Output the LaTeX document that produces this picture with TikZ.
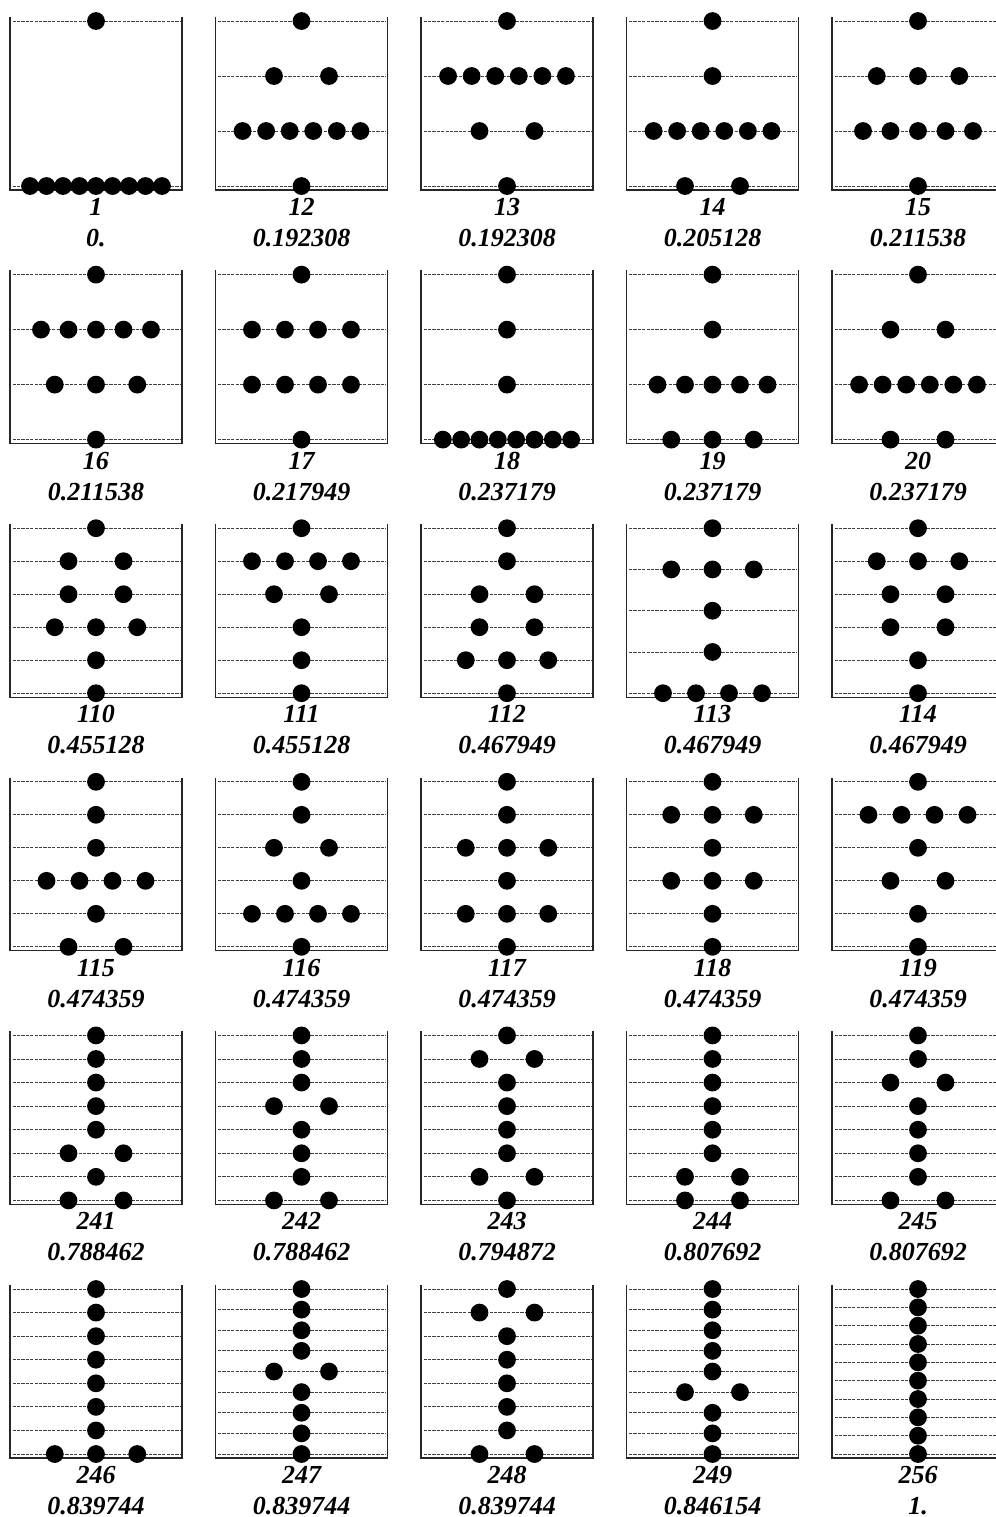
\documentclass[tikz,border=0pt]{standalone}
\usepackage{fontspec}
\setmainfont{Liberation Serif}
\usepackage{tikz}
\usetikzlibrary{positioning}
\tikzset{
  levelline/.style = {draw=black!75, line width=0.4pt, dash pattern=on 1.6pt off 0.6pt},
  frameline/.style = {draw=black!85, line width=0.55pt},
  bead/.style      = {fill=black},
  idxlbl/.style    = {font=\fontsize{13}{15}\selectfont\bfseries\itshape, inner sep=0pt, anchor=base},
  scorelbl/.style  = {font=\fontsize{13}{15}\selectfont\bfseries\itshape, inner sep=0pt},
}
\begin{document}
\begin{tikzpicture}[x=0.5pt, y=-0.5pt]
\useasboundingbox (0,0) rectangle (996,1517);

\foreach \lab/\val/\nlev/\cnts [count=\p from 0] in {
  1/0./2/{1,9},
  12/0.192308/4/{1,2,6,1},
  13/0.192308/4/{1,6,2,1},
  14/0.205128/4/{1,1,6,2},
  15/0.211538/4/{1,3,5,1},
  16/0.211538/4/{1,5,3,1},
  17/0.217949/4/{1,4,4,1},
  18/0.237179/4/{1,1,1,8},
  19/0.237179/4/{1,1,5,3},
  20/0.237179/4/{1,2,6,2},
  110/0.455128/6/{1,2,2,3,1,1},
  111/0.455128/6/{1,4,2,1,1,1},
  112/0.467949/6/{1,1,2,2,3,1},
  113/0.467949/5/{1,3,1,1,4},
  114/0.467949/6/{1,3,2,2,1,1},
  115/0.474359/6/{1,1,1,4,1,2},
  116/0.474359/6/{1,1,2,1,4,1},
  117/0.474359/6/{1,1,3,1,3,1},
  118/0.474359/6/{1,3,1,3,1,1},
  119/0.474359/6/{1,4,1,2,1,1},
  241/0.788462/8/{1,1,1,1,1,2,1,2},
  242/0.788462/8/{1,1,1,2,1,1,1,2},
  243/0.794872/8/{1,2,1,1,1,1,2,1},
  244/0.807692/8/{1,1,1,1,1,1,2,2},
  245/0.807692/8/{1,1,2,1,1,1,1,2},
  246/0.839744/8/{1,1,1,1,1,1,1,3},
  247/0.839744/9/{1,1,1,1,2,1,1,1,1},
  248/0.839744/8/{1,2,1,1,1,1,1,2},
  249/0.846154/9/{1,1,1,1,1,2,1,1,1},
  256/1./10/{1,1,1,1,1,1,1,1,1,1}} {
  \pgfmathsetmacro\cx{96+205.5*mod(\p,5)}
  \pgfmathsetmacro\tp{21+253.6*floor(\p/5)}
  \coordinate (top\p) at (\cx,\tp);

  \foreach \m [count=\k from 0] in \cnts {
    \pgfmathsetmacro\ly{\tp+165*\k/(\nlev-1)}
    \draw[levelline] ({\cx-83.5},\ly) -- ({\cx+84},\ly);
  }
  \draw[frameline] ({\cx-86},{\tp-4.3}) -- ({\cx-86},{\tp+169})
    -- ({\cx+86},{\tp+169}) -- ({\cx+86},{\tp-4.3});
  \foreach \m [count=\k from 0] in \cnts {
    \pgfmathsetmacro\ly{\tp+165*\k/(\nlev-1)}
    \foreach \i in {1,...,\m}
      \fill[bead] ({\cx-82.5+165*\i/(\m+1)},\ly) circle[radius=4.45pt];
  }

  \node[idxlbl] (num\p) at (\cx,{\tp+194.5}) {\lab};
  \node[scorelbl, below=15.5pt of num\p.base, anchor=base] (val\p) {\val};
}

\end{tikzpicture}
\end{document}
